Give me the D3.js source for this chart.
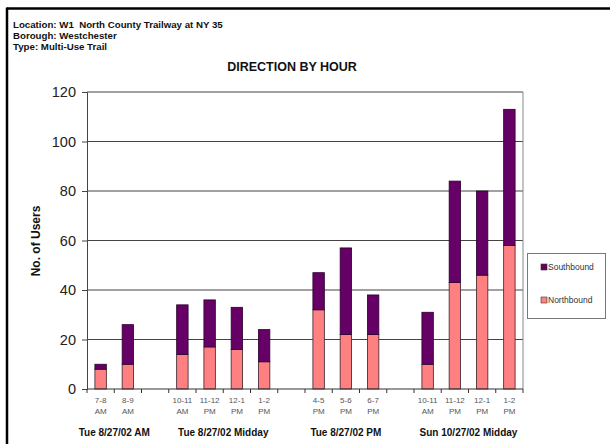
<!DOCTYPE html>
<html>
<head>
<meta charset="utf-8">
<script src="https://cdn.jsdelivr.net/npm/d3@7/dist/d3.min.js"></script>
<style>
  html, body { margin: 0; padding: 0; background: #fff; }
  svg { display: block; font-family: Arial, "Liberation Sans", sans-serif; }
</style>
</head>
<body>
<svg id="chart" width="610" height="444"></svg>
<script>
// ---- data ----
const headerLines = ["Location: W1  North County Trailway at NY 35", "Borough: Westchester", "Type: Multi-Use Trail"];
const title = "DIRECTION BY HOUR";
const hourLabels = ["7-8", "8-9", "", "10-11", "11-12", "12-1", "1-2", "", "4-5", "5-6", "6-7", "", "10-11", "11-12", "12-1", "1-2"];
const periodLabels = ["AM", "AM", "", "AM", "PM", "PM", "PM", "", "PM", "PM", "PM", "", "AM", "PM", "PM", "PM"];
const northbound = [8, 10, null, 14, 17, 16, 11, null, 32, 22, 22, null, 10, 43, 46, 58];
const southbound = [2, 16, null, 20, 19, 17, 13, null, 15, 35, 16, null, 21, 41, 34, 55];
const groupNames = ["Tue 8/27/02 AM", "Tue 8/27/02 Midday", "Tue 8/27/02 PM", "Sun 10/27/02 Midday"];
const groupFirst = [0, 3, 8, 12];
const groupLast = [1, 6, 10, 15];
const yTicks = [0, 20, 40, 60, 80, 100, 120];
const seriesNames = ["Southbound", "Northbound"];
const seriesColors = ["#660066", "#ff8080"];

// ---- layout ----
const svg = d3.select("#chart");
const plot = { left: 87, right: 523, top: 92, bottom: 389 };

// outer frame (top and left)
svg.append("line").attr("x1", 7).attr("x2", 610).attr("y1", 8.5).attr("y2", 8.5)
  .attr("stroke", "#000").attr("stroke-width", 2.5);
svg.append("line").attr("x1", 7).attr("x2", 7).attr("y1", 7.5).attr("y2", 444)
  .attr("stroke", "#000").attr("stroke-width", 2.5);

// header
svg.append("g").selectAll("text").data(headerLines).join("text")
  .attr("x", 13).attr("y", (d, i) => 27.5 + i * 11)
  .attr("font-size", 9.7).attr("font-weight", "bold").attr("fill", "#111")
  .style("white-space", "pre")
  .text(d => d);

svg.append("text").attr("x", 292).attr("y", 71).attr("text-anchor", "middle")
  .attr("font-size", 12.5).attr("font-weight", "bold").attr("fill", "#111").text(title);

const idx = d3.range(hourLabels.length);
const x = d3.scaleBand().domain(idx).range([plot.left, plot.right]).paddingInner(0.58).paddingOuter(0.29);
const y = d3.scaleLinear().domain([0, 120]).range([plot.bottom, plot.top]);

// gridlines
svg.append("g").selectAll("line").data(yTicks.filter(t => t > 0)).join("line")
  .attr("x1", plot.left).attr("x2", plot.right)
  .attr("y1", d => y(d)).attr("y2", d => y(d))
  .attr("stroke", "#444").attr("stroke-width", 1.1);
// right border of plot
svg.append("line").attr("x1", plot.right).attr("x2", plot.right).attr("y1", plot.top).attr("y2", plot.bottom)
  .attr("stroke", "#888").attr("stroke-width", 1);

// y axis
const yAxis = d3.axisLeft(y).tickValues(yTicks).tickSize(5).tickPadding(6);
const gy = svg.append("g").attr("transform", `translate(${plot.left},0)`).call(yAxis);
gy.select(".domain").attr("stroke", "#444");
gy.selectAll(".tick line").attr("stroke", "#444");
gy.selectAll(".tick text").attr("font-size", 14.5).attr("fill", "#222").attr("font-family", "Arial, 'Liberation Sans', sans-serif");

// y title
svg.append("text").attr("transform", "translate(40,241) rotate(-90)")
  .attr("text-anchor", "middle").attr("font-size", 12).attr("font-weight", "bold").attr("fill", "#111")
  .text("No. of Users");

// bars
const stackData = idx.map(i => ({ i, n: northbound[i], s: southbound[i] })).filter(d => d.n !== null);
const bars = svg.append("g");
bars.selectAll("rect.n").data(stackData).join("rect").attr("class", "n")
  .attr("x", d => x(d.i)).attr("width", x.bandwidth())
  .attr("y", d => y(d.n)).attr("height", d => y(0) - y(d.n))
  .attr("fill", seriesColors[1]).attr("stroke", "#3a2030").attr("stroke-width", 0.8);
bars.selectAll("rect.s").data(stackData).join("rect").attr("class", "s")
  .attr("x", d => x(d.i)).attr("width", x.bandwidth())
  .attr("y", d => y(d.n + d.s)).attr("height", d => y(d.n) - y(d.n + d.s))
  .attr("fill", seriesColors[0]).attr("stroke", "#2a002a").attr("stroke-width", 0.8);

// x axis
svg.append("line").attr("x1", plot.left).attr("x2", plot.right).attr("y1", plot.bottom).attr("y2", plot.bottom)
  .attr("stroke", "#333").attr("stroke-width", 1.2);
const boundaries = d3.range(hourLabels.length + 1).map(k => plot.left + k * x.step());
svg.append("g").selectAll("line").data(boundaries).join("line")
  .attr("x1", d => d).attr("x2", d => d).attr("y1", plot.bottom).attr("y2", plot.bottom + 4)
  .attr("stroke", "#333");

const xl = svg.append("g").attr("font-size", 8).attr("fill", "#555").attr("text-anchor", "middle");
xl.selectAll("text.h").data(idx).join("text").attr("class", "h")
  .attr("x", d => x(d) + x.bandwidth() / 2).attr("y", 403).text(d => hourLabels[d]);
xl.selectAll("text.p").data(idx).join("text").attr("class", "p")
  .attr("x", d => x(d) + x.bandwidth() / 2).attr("y", 414).text(d => periodLabels[d]);

// group labels
svg.append("g").selectAll("text").data(groupNames).join("text")
  .attr("x", (d, k) => (x(groupFirst[k]) + x(groupLast[k]) + x.bandwidth()) / 2)
  .attr("y", 436).attr("text-anchor", "middle")
  .attr("font-size", 10).attr("font-weight", "bold").attr("fill", "#111")
  .text(d => d);

// legend
const lg = svg.append("g");
lg.append("rect").attr("x", 527.5).attr("y", 253.5).attr("width", 78).attr("height", 65)
  .attr("fill", "#fff").attr("stroke", "#777").attr("stroke-width", 1);
seriesNames.forEach((name, k) => {
  const yy = 267 + k * 33;
  lg.append("rect").attr("x", 541).attr("y", yy - 3).attr("width", 6).attr("height", 6)
    .attr("fill", seriesColors[k]).attr("stroke", "#333").attr("stroke-width", 0.6);
  lg.append("text").attr("x", 548).attr("y", yy + 3).attr("font-size", 8.5).attr("fill", "#333").text(name);
});
</script>
</body>
</html>
